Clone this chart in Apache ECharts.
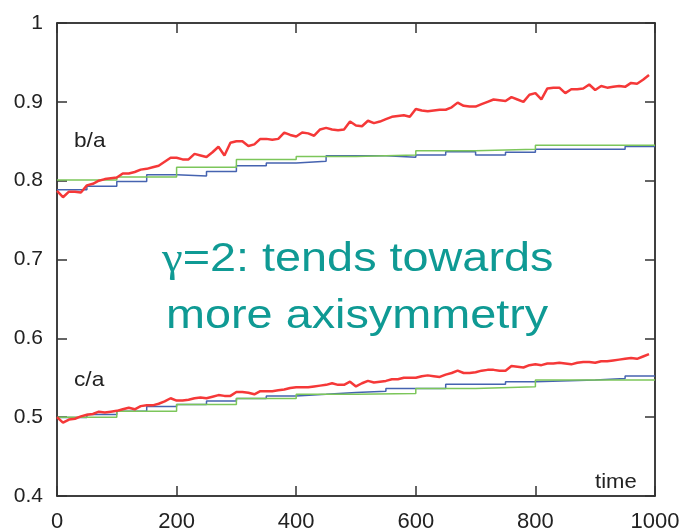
<!DOCTYPE html>
<html>
<head>
<meta charset="utf-8">
<script src="https://cdn.jsdelivr.net/npm/echarts@6/dist/echarts.min.js"></script>
<style>html,body{margin:0;padding:0;background:#fff;}#c{width:686px;height:528px;}</style>
</head>
<body>
<div id="c"></div>
<script>
// ---- data ----
const redTimes = [0,10,20,30,40,50,60,70,80,90,100,110,120,130,140,150,160,170,180,190,200,210,220,230,240,250,260,270,280,290,300,310,320,330,340,350,360,370,380,390,400,410,420,430,440,450,460,470,480,490,500,510,520,530,540,550,560,570,580,590,600,610,620,630,640,650,660,670,680,690,700,710,720,730,740,750,760,770,780,790,800,810,820,830,840,850,860,870,880,890,900,910,920,930,940,950,960,970,980,990];
const redBA = [0.787,0.779,0.786,0.786,0.785,0.794,0.796,0.800,0.802,0.803,0.804,0.809,0.809,0.811,0.814,0.815,0.817,0.819,0.824,0.829,0.829,0.827,0.827,0.834,0.832,0.830,0.836,0.843,0.832,0.848,0.850,0.850,0.844,0.846,0.853,0.853,0.852,0.853,0.861,0.858,0.856,0.861,0.860,0.857,0.865,0.867,0.865,0.864,0.865,0.875,0.870,0.869,0.876,0.873,0.875,0.878,0.881,0.882,0.883,0.881,0.891,0.889,0.888,0.889,0.890,0.890,0.893,0.899,0.895,0.894,0.894,0.897,0.900,0.903,0.902,0.901,0.906,0.903,0.900,0.909,0.911,0.903,0.917,0.918,0.918,0.911,0.916,0.916,0.917,0.922,0.915,0.920,0.918,0.919,0.920,0.919,0.924,0.923,0.928,0.934];
const redCA = [0.500,0.493,0.497,0.498,0.501,0.503,0.504,0.507,0.506,0.507,0.508,0.510,0.512,0.510,0.514,0.515,0.515,0.517,0.520,0.524,0.521,0.521,0.522,0.524,0.525,0.524,0.526,0.528,0.527,0.527,0.532,0.532,0.531,0.529,0.533,0.533,0.533,0.534,0.535,0.537,0.538,0.538,0.538,0.539,0.540,0.541,0.543,0.541,0.541,0.545,0.539,0.543,0.546,0.544,0.545,0.546,0.548,0.548,0.550,0.550,0.550,0.552,0.553,0.552,0.551,0.554,0.556,0.559,0.556,0.556,0.557,0.559,0.560,0.560,0.559,0.559,0.565,0.564,0.563,0.566,0.567,0.566,0.568,0.568,0.569,0.568,0.567,0.569,0.570,0.570,0.569,0.571,0.571,0.572,0.573,0.574,0.575,0.574,0.577,0.580];

const blueBATimes = [0,50,100,150,200,250,300,350,400,450,550,600,650,700,750,800,950,1000];
const blueBA = [0.7886,0.793,0.799,0.8075,0.806,0.8115,0.819,0.8225,0.8245,0.8317,0.8296,0.8326,0.8368,0.8326,0.836,0.8398,0.8432,0.8432];
const greenBATimes = [0,100,200,300,400,500,600,700,800,1000];
const greenBA = [0.801,0.8045,0.817,0.827,0.8305,0.8326,0.838,0.8398,0.8448,0.8448];

const blueCATimes = [0,50,100,150,200,250,300,350,400,450,500,550,600,650,750,800,900,950,1000];
const blueCA = [0.4996,0.5035,0.5076,0.5135,0.5162,0.5205,0.5237,0.527,0.529,0.5313,0.533,0.5364,0.5364,0.5419,0.5448,0.547,0.549,0.5522,0.5522];
const greenCATimes = [0,100,200,300,400,500,600,700,800,1000];
const greenCA = [0.500,0.5076,0.516,0.5237,0.529,0.530,0.5364,0.5385,0.547,0.547];

const xTicks = {min: 0, max: 1000, step: 200};
const yTicks = {min: 0.4, max: 1, step: 0.1};

const labelBA = 'b/a';
const labelCA = 'c/a';
const labelTime = 'time';
const noteGamma = 'γ';
const noteLine1 = '=2: tends towards';
const noteLine2 = 'more axisymmetry';

// ---- chart ----
const pair = (xs, ys) => xs.map((x, i) => [x, ys[i]]);
const FONT = "'Liberation Sans', Arial, sans-serif";
const SERIF = "'Liberation Serif', 'DejaVu Serif', serif";
const RED = '#f53838', BLUE = '#4563b0', GREEN = '#7cc65a', TEAL = '#0f9a94';

const axisCommon = {
  axisLine: {show: true, onZero: false, lineStyle: {color: '#000', width: 1.5}},
  axisTick: {show: true, inside: true, length: 10, lineStyle: {color: '#333', width: 1.5}},
  splitLine: {show: false}
};

const chart = echarts.init(document.getElementById('c'), null, {renderer: 'canvas'});
chart.setOption({
  animation: false,
  backgroundColor: '#fff',
  grid: {left: 57, right: 31, top: 23, bottom: 32, containLabel: false, outerBoundsMode: 'none'},
  xAxis: [
    Object.assign({type: 'value', position: 'bottom', min: xTicks.min, max: xTicks.max, interval: xTicks.step,
      axisLabel: {show: true, margin: 15, color: '#222', fontSize: 22, fontFamily: FONT,
        formatter: v => String(v)}}, axisCommon),
    Object.assign({type: 'value', position: 'top', min: xTicks.min, max: xTicks.max, interval: xTicks.step,
      axisLabel: {show: false}}, axisCommon)
  ],
  yAxis: [
    Object.assign({type: 'value', position: 'left', min: yTicks.min, max: yTicks.max, interval: yTicks.step,
      axisLabel: {show: true, margin: 14, color: '#222', fontSize: 21, fontFamily: FONT,
        formatter: v => String(Math.round(v * 10) / 10)}}, axisCommon),
    Object.assign({type: 'value', position: 'right', min: yTicks.min, max: yTicks.max, interval: yTicks.step,
      axisLabel: {show: false}}, axisCommon)
  ],
  series: [
    {type: 'line', step: 'end', data: pair(blueBATimes, blueBA), symbol: 'none', lineStyle: {color: BLUE, width: 1.5}},
    {type: 'line', step: 'end', data: pair(greenBATimes, greenBA), symbol: 'none', lineStyle: {color: GREEN, width: 1.5}},
    {type: 'line', step: 'end', data: pair(blueCATimes, blueCA), symbol: 'none', lineStyle: {color: BLUE, width: 1.5}},
    {type: 'line', step: 'end', data: pair(greenCATimes, greenCA), symbol: 'none', lineStyle: {color: GREEN, width: 1.5}},
    {type: 'line', data: pair(redTimes, redBA), symbol: 'none', lineStyle: {color: RED, width: 2.5}},
    {type: 'line', data: pair(redTimes, redCA), symbol: 'none', lineStyle: {color: RED, width: 2.5}}
  ],
  graphic: [
    {type: 'text', x: 74, y: 131, scaleX: 1.08, style: {text: labelBA, fill: '#222', font: '21px ' + FONT, verticalAlign: 'top'}},
    {type: 'text', x: 74, y: 370, scaleX: 1.08, style: {text: labelCA, fill: '#222', font: '21px ' + FONT, verticalAlign: 'top'}},
    {type: 'text', x: 595, y: 472, scaleX: 1.05, style: {text: labelTime, fill: '#222', font: '21px ' + FONT, verticalAlign: 'top'}},
    {type: 'text', x: 162, y: 240, scaleX: 1.17, style: {
      text: '{g|' + noteGamma + '}' + noteLine1, fill: TEAL, font: '40px ' + FONT, verticalAlign: 'top',
      rich: {g: {fontFamily: SERIF, fontSize: 40, fill: TEAL}}}},
    {type: 'text', x: 166, y: 297, scaleX: 1.17, style: {text: noteLine2, fill: TEAL, font: '40px ' + FONT, verticalAlign: 'top'}}
  ]
});
</script>
</body>
</html>
